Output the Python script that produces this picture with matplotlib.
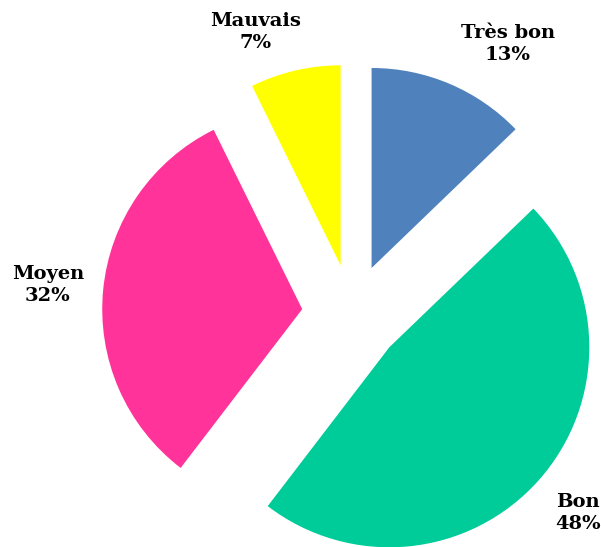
import matplotlib
matplotlib.use("Agg")
import matplotlib.pyplot as plt

# data
labels = ["Très bon", "Bon", "Moyen", "Mauvais"]
shares = [12.8, 47.6, 32.3, 7.3]
colors = ["#4F81BD", "#00CC99", "#FF3399", "#FFFF00"]
explode = [0.25, 0.25, 0.25, 0.25]

# label positions (axes data units, radius = 1)
label_pos = [(0.78, 1.35), (1.13, -0.995), (-1.52, 0.145), (-0.48, 1.41)]

fig = plt.figure(figsize=(6.01, 5.47), dpi=100, facecolor="white")
ax = fig.add_axes([0, 0, 1, 1])

ax.pie(shares, colors=colors, explode=explode, startangle=90,
       counterclock=False, radius=1.0, center=(0, 0),
       wedgeprops=dict(linewidth=0))

for lab, val, (x, y) in zip(labels, shares, label_pos):
    ax.text(x, y, "{}\n{:.0f}%".format(lab, val), ha="center", va="center",
            fontsize=14, fontweight="bold", family="DejaVu Serif",
            linespacing=1.3, color="black")

ax.set_xlim(-1.76, 1.245)
ax.set_ylim(-1.165, 1.57)
ax.set_aspect("auto")
ax.axis("off")

fig.savefig("out.png", dpi=100, facecolor="white")
